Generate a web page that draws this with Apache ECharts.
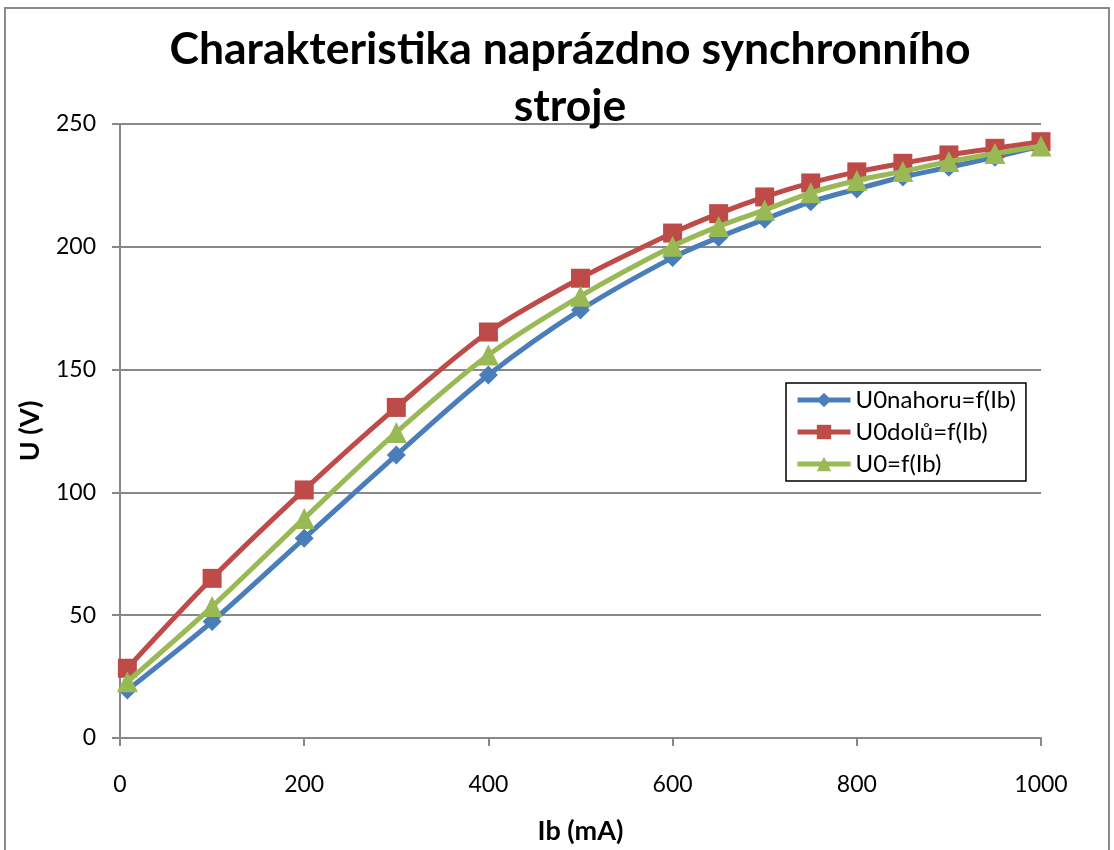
<!DOCTYPE html>
<html>
<head>
<meta charset="utf-8">
<script src="https://cdn.jsdelivr.net/npm/echarts@6/dist/echarts.min.js"></script>
<style>
html,body{margin:0;padding:0;background:#fff;}
#chart{width:1114px;height:850px;}
</style>
</head>
<body>
<div id="chart"></div>
<script>
const titleText = 'Charakteristika naprázdno synchronního\nstroje';
const xName = 'Ib (mA)';
const yName = 'U (V)';
const seriesNames = ['U0nahoru=f(Ib)', 'U0dolů=f(Ib)', 'U0=f(Ib)'];
const ib = [8, 100, 200, 300, 400, 500, 600, 650, 700, 750, 800, 850, 900, 950, 1000];
const uUp   = [19.5, 47.4, 81.3, 115.2, 147.8, 174.3, 195.6, 203.8, 211.2, 218.3, 223.5, 228.4, 232.4, 236.5, 241];
const uDown = [28.4, 65.0, 101.0, 134.6, 165.3, 187.2, 205.6, 213.5, 220.3, 226.0, 230.5, 234.0, 237.4, 240.1, 242.8];
const u0    = [22.9, 53.5, 89.4, 124.4, 155.9, 179.9, 200.2, 208.3, 215.0, 222.0, 227.0, 230.7, 234.7, 238.0, 241];
const colors = ['#4A7EBB', '#BE4B48', '#98B954'];
const symbols = ['diamond', 'rect', 'triangle'];
const symbolSizes = [19, 19, 21];
const seriesData = [uUp, uDown, u0];

const font = 'Lato, "Open Sans", sans-serif';
const chart = echarts.init(document.getElementById('chart'));
const series = seriesData.map((vals, i) => ({
  name: seriesNames[i],
  type: 'line',
  data: ib.map((x, k) => [x, vals[k]]),
  smooth: 0.3,
  symbol: symbols[i],
  symbolSize: symbolSizes[i],
  symbolKeepAspect: true,
  lineStyle: {color: colors[i], width: 5},
  itemStyle: {color: colors[i]},
  z: 2 + (i === 2 ? 1 : 0)
}));
chart.setOption({
  animation: false,
  textStyle: {fontFamily: font},
  title: {
    text: titleText,
    left: 565, top: 16, textAlign: 'center',
    textStyle: {fontFamily: font, fontSize: 44.5, fontWeight: 'bold', color: '#000', lineHeight: 57}
  },
  graphic: [{
    type: 'rect', shape: {x: 5, y: 8, width: 1104, height: 900},
    style: {fill: 'none', stroke: '#8a8a8a', lineWidth: 2}, silent: true, z: -1
  }],
  grid: {left: 120, right: 73, top: 124, bottom: 112, containLabel: false, outerBoundsMode: 'none'},
  legend: {
    orient: 'vertical', left: 786, top: 383,
    backgroundColor: '#fff', borderColor: '#000', borderWidth: 1.5,
    padding: [5, 10, 5, 9], itemGap: 8, itemWidth: 53, itemHeight: 18,
    lineStyle: {width: 5},
    textStyle: {fontFamily: font, fontSize: 24, color: '#000', lineHeight: 24}
  },
  xAxis: {
    type: 'value', min: 0, max: 1000, interval: 200,
    name: xName, nameLocation: 'middle', nameGap: 80,
    nameTextStyle: {fontFamily: font, fontSize: 27, fontWeight: 'bold', color: '#000'},
    axisLine: {show: true, lineStyle: {color: '#888', width: 2}},
    axisTick: {show: true, length: 8, lineStyle: {color: '#888', width: 2}},
    axisLabel: {fontFamily: font, fontSize: 23, color: '#000', margin: 35, formatter: v => String(v)},
    splitLine: {show: false}
  },
  yAxis: {
    type: 'value', min: 0, max: 250, interval: 50,
    name: yName, nameLocation: 'middle', nameGap: 76,
    nameTextStyle: {fontFamily: font, fontSize: 27, fontWeight: 'bold', color: '#000'},
    axisLine: {show: true, lineStyle: {color: '#888', width: 2}},
    axisTick: {show: true, length: 8, lineStyle: {color: '#888', width: 2}},
    axisLabel: {fontFamily: font, fontSize: 23, color: '#000', margin: 24, formatter: v => String(v)},
    splitLine: {show: true, lineStyle: {color: '#888', width: 2}}
  },
  series: series
});
</script>
</body>
</html>
